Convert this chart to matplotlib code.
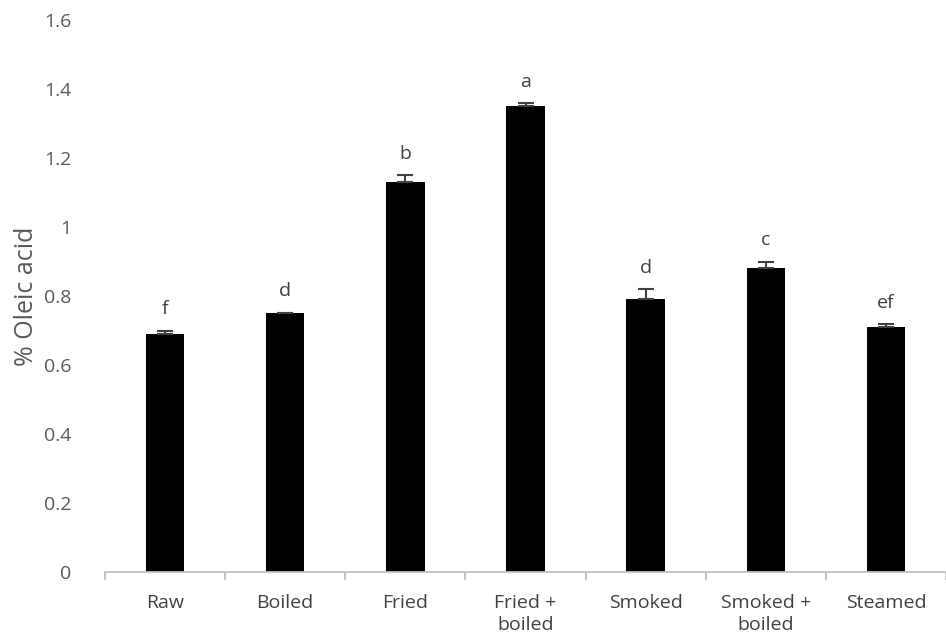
import matplotlib
matplotlib.use("Agg")
import matplotlib.pyplot as plt
import numpy as np

categories = ["Raw", "Boiled", "Fried", "Fried +\nboiled", "Smoked", "Smoked +\nboiled", "Steamed"]
values = [0.69, 0.75, 1.13, 1.35, 0.79, 0.88, 0.71]
errors = [0.01, 0.002, 0.02, 0.01, 0.03, 0.02, 0.01]
letters = ["f", "d", "b", "a", "d", "c", "ef"]
yticks = [0, 0.2, 0.4, 0.6, 0.8, 1.0, 1.2, 1.4, 1.6]
ytick_labels = ["0", "0.2", "0.4", "0.6", "0.8", "1", "1.2", "1.4", "1.6"]

plt.rcParams['font.family'] = ['Open Sans', 'DejaVu Sans']
gray = "#595959"

fig = plt.figure(figsize=(9.46, 6.42), dpi=100)
ax = fig.add_axes([105/946, 70/642, 841/946, 552/642])

x = np.arange(len(categories))
ax.bar(x, values, width=0.32, color="black", zorder=2)
ax.errorbar(x, values, yerr=[np.zeros(len(errors)), errors], fmt="none",
            ecolor="#404040", elinewidth=1.5, capsize=6, capthick=1.5, zorder=3)
for xi, v, e, l in zip(x, values, errors, letters):
    ax.text(xi, v + e + 0.035, l, ha="center", va="bottom", fontsize=14, color="#404040")

ax.set_xlim(-0.5, len(categories) - 0.5)
ax.set_ylim(0, 1.6)
ax.set_yticks(yticks)
ax.set_yticklabels(ytick_labels)
ax.set_xticks(x)
ax.set_xticklabels(categories, linespacing=1.3)
ax.set_xticks(np.arange(-0.5, len(categories), 1), minor=True)

for s in ["top", "right", "left"]:
    ax.spines[s].set_visible(False)
ax.spines["bottom"].set_color("#bfbfbf")
ax.spines["bottom"].set_linewidth(1.3)

ax.tick_params(axis="y", length=0, pad=24, labelsize=14, labelcolor=gray)
ax.tick_params(axis="x", which="major", length=0, pad=16, labelsize=14, labelcolor="#404040")
ax.tick_params(axis="x", which="minor", length=6, width=1.3, color="#bfbfbf")

ax.set_ylabel("% Oleic acid", fontsize=18, color=gray)
ax.yaxis.set_label_coords(-66/841, 0.5)

fig.savefig("out.png", dpi=100)
